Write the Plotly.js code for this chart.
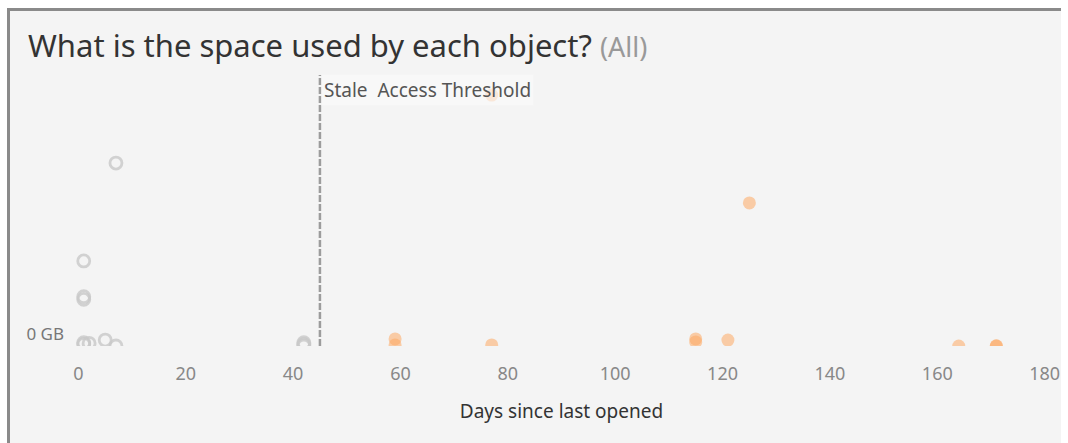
<!DOCTYPE html>
<html>
<head>
<meta charset="utf-8">
<script src="https://cdn.plot.ly/plotly-3.0.1.min.js"></script>
<style>
  html, body { margin: 0; padding: 0; background: #ffffff; width: 1068px; height: 443px; overflow: hidden; }
  #frame { position: absolute; left: 7px; top: 8px; width: 1051px; height: 435px;
           border-left: 3px solid #8a8a8a; border-top: 3px solid #8a8a8a; background: #f4f4f4; overflow: visible; }
  #chart { width: 1058px; height: 432px; }
</style>
</head>
<body>
<div id="frame"><div id="chart"></div></div>
<script>
// Recent objects (opened within the threshold) - hollow gray rings
const recentDays = [7, 1, 1, 1, 1, 1, 2, 5, 7, 42, 42, 42];
const recentSizeGB = [0.675, 0.314, 0.182, 0.172, 0.012, 0.006, 0.010, 0.022, 0.0, 0.012, 0.006, 0.0];

// Stale objects (beyond the threshold) - filled orange dots
const staleDays = [59, 59, 77, 77, 115, 115, 121, 125, 164, 171, 171];
const staleSizeGB = [0.026, 0.004, 0.004, 0.926, 0.026, 0.015, 0.022, 0.528, 0.0, 0.0, 0.001];

const staleThresholdDays = 45;
const xTicks = [0, 20, 40, 60, 80, 100, 120, 140, 160, 180];
const yTicks = [0];
const yTickText = ['0 GB'];

const traces = [
  {
    type: 'scatter', mode: 'markers', name: 'Recent',
    x: recentDays, y: recentSizeGB,
    marker: { symbol: 'circle', size: 12, color: 'rgba(0,0,0,0)',
              line: { color: 'rgba(200,200,200,0.8)', width: 2.8 } },
    hoverinfo: 'x+y', showlegend: false
  },
  {
    type: 'scatter', mode: 'markers', name: 'Stale',
    x: staleDays, y: staleSizeGB,
    marker: { symbol: 'circle', size: 13, color: 'rgba(253,170,100,0.55)', line: { width: 0 } },
    hoverinfo: 'x+y', showlegend: false
  }
];

const layout = {
  width: 1058, height: 432,
  paper_bgcolor: 'rgba(0,0,0,0)', plot_bgcolor: 'rgba(0,0,0,0)',
  margin: { l: 63, r: 18, t: 64, b: 97, pad: 0 },
  font: { family: '"Noto Sans", "Open Sans", sans-serif', color: '#888888' },
  title: {
    text: 'What is the space used by each object? <span style="font-size:27px;color:#999999">(All)</span>',
    font: { size: 31, color: '#333333', family: '"Noto Sans", sans-serif' },
    xref: 'container', x: 18 / 1058, xanchor: 'left',
    yref: 'container', y: 1 - 35 / 432, yanchor: 'middle'
  },
  xaxis: {
    range: [-1, 181],
    tickvals: xTicks,
    ticks: '', showgrid: false, zeroline: false, showline: false,
    tickfont: { size: 18, color: '#888888' },
    ticklabelstandoff: 15,
    ticklabeloverflow: 'allow',
    title: { text: 'Days since last opened', font: { size: 19, color: '#333333' }, standoff: 20 }
  },
  yaxis: {
    range: [0, 1],
    tickvals: yTicks, ticktext: yTickText,
    ticks: '', showgrid: false, zeroline: false, showline: false,
    ticklabelposition: 'outside top',
    ticklabelstandoff: 8,
    tickfont: { size: 17, color: '#777777' }
  },
  shapes: [
    { type: 'line', xref: 'x', yref: 'paper', x0: staleThresholdDays, x1: staleThresholdDays, y0: 0, y1: 1,
      line: { color: '#9c9c9c', width: 2.5, dash: '7px,2px' } }
  ],
  annotations: [
    { xref: 'x', yref: 'paper', x: staleThresholdDays, y: 1, xanchor: 'left', yanchor: 'top',
      xshift: 1, yshift: 1,
      text: 'Stale\u00a0 Access Threshold', showarrow: false,
      font: { size: 19, color: '#555555' },
      bgcolor: 'rgba(250,250,250,0.6)', borderpad: 2 }
  ]
};

Plotly.newPlot('chart', traces, layout, { displayModeBar: false, staticPlot: true });
</script>
</body>
</html>
